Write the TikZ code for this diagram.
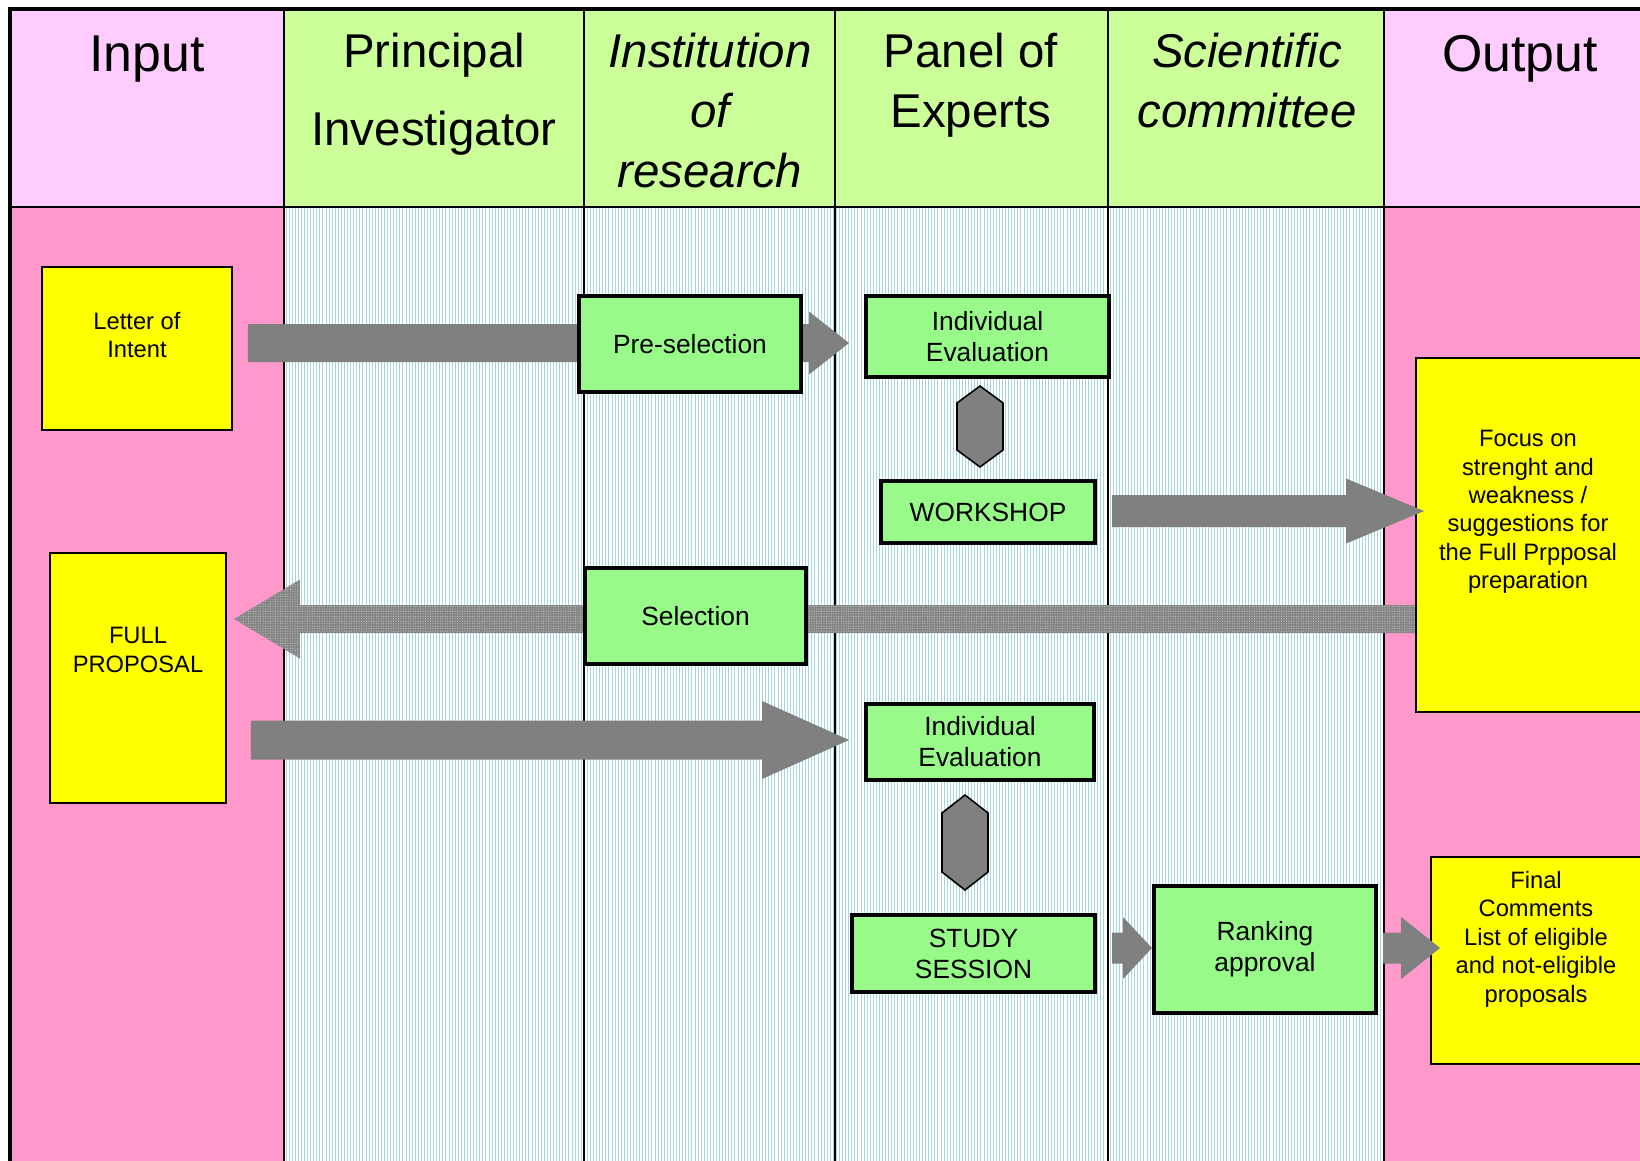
\documentclass[tikz,border=0pt]{standalone}
\usepackage{fontspec}
\setmainfont{Liberation Sans}
\usepackage{tikz}
\usetikzlibrary{calc,patterns.meta}

\definecolor{headpink}{RGB}{255,204,255}
\definecolor{headgreen}{RGB}{204,255,153}
\definecolor{bodypink}{RGB}{255,153,204}
\definecolor{hatchblue}{RGB}{168,214,222}
\definecolor{boxgreen}{RGB}{152,250,136}
\definecolor{noteyellow}{RGB}{255,255,0}
\definecolor{flowgray}{RGB}{128,128,128}
\definecolor{selgray}{RGB}{134,134,134}

\pgfdeclarelayer{lanes}
\pgfdeclarelayer{flows}
\pgfsetlayers{lanes,flows,main}

\tikzset{
  stepbox/.style={draw=black, line width=2.3pt, fill=boxgreen, align=center,
    inner sep=0pt, font=\fontsize{15}{17.6}\selectfont},
  notebox/.style={draw=black, line width=1.1pt, fill=noteyellow, inner sep=0pt},
  notetext/.style={align=center, inner sep=0pt, font=\fontsize{13.5}{16.2}\selectfont},
  colhead/.style={anchor=base, align=center, inner sep=0pt, font=\fontsize{27}{34}\selectfont},
  bighead/.style={colhead, font=\fontsize{29.5}{35}\selectfont},
  hexa/.style={draw=black, line width=0.9pt, fill=flowgray},
  flow/.style={fill=flowgray},
  selflow/.style={fill=selgray, postaction={pattern={Dots[radius=0.25pt,distance=1.4pt]},
    pattern color=white!70!selgray}},
}

% block arrow: tail, tip, shaft half width, head half width, head offset
\newcommand{\fatarrow}[6][flow]{%
  \fill[#1] ($(#2 |- #3)+(0,#4)$) -- ($(#3)+(#6,#4)$) -- ($(#3)+(#6,#5)$) -- (#3)
    -- ($(#3)+(#6,-#5)$) -- ($(#3)+(#6,-#4)$) -- ($(#2 |- #3)+(0,-#4)$) -- cycle;}

\begin{document}
\begin{tikzpicture}[x=0.02cm,y=-0.02cm]
  \useasboundingbox (0,0) rectangle (1640,1160);

  % lanes
  \begin{pgfonlayer}{lanes}
    \fill[headpink] (10,9) rectangle (284,207);
    \fill[headgreen] (284,9) rectangle (1384,207);
    \fill[headpink] (1384,9) rectangle (1670,207);
    \fill[bodypink] (10,207) rectangle (284,1170);
    \fill[white, postaction={pattern={Lines[angle=90,distance=1.75pt,line width=0.4pt]},
      pattern color=hatchblue}] (284,207) rectangle (1384,1170);
    \fill[bodypink] (1384,207) rectangle (1670,1170);
    \foreach \cx in {284,584,835,1108,1384}
      \draw[line width=1.1pt] (\cx,9) -- (\cx,1170);
    \draw[line width=1.1pt] (10,207) -- (1670,207);
    \draw[line width=2.5pt] (10,1170) -- (10,9) -- (1670,9);
  \end{pgfonlayer}

  % headers (base = last line)
  \node[bighead] (h-in) at (147,71) {Input};
  \node[colhead, font=\fontsize{27}{44}\selectfont] (h-pi) at (434,145) {Principal\\Investigator};
  \node[colhead, font=\fontsize{27}{34}\selectfont\itshape] (h-ir) at (710,187) {Institution\\of\\research};
  \node[colhead] (h-pe) at (971,127) {Panel of\\Experts};
  \node[colhead, font=\fontsize{27}{34}\selectfont\itshape] (h-sc) at (1247,127) {Scientific\\committee};
  \node[bighead] (h-out) at (1520,71) {Output};

  % input / output notes
  \node[notebox, minimum width=3.8cm, minimum height=3.26cm] (letter) at (137,348.5) {};
  \node[notetext] (letter-t) at (137,335) {Letter of\\Intent};
  \node[notebox, minimum width=3.52cm, minimum height=5cm] (full) at (138,678) {};
  \node[notetext] (full-t) at (138,650) {FULL\\PROPOSAL};
  \node[notebox, minimum width=4.68cm, minimum height=7.08cm] (focus) at (1533,535) {};
  \node[notetext] (focus-t) at (1528,512) {Focus on\\strenght and\\weakness /\\suggestions for\\the Full Prpposal\\preparation};
  \node[notebox, minimum width=4.38cm, minimum height=4.14cm] (final) at (1540.5,960.5) {};
  \node[notetext] (final-t) at (1536,939) {Final\\Comments\\List of eligible\\and not-eligible\\proposals};

  % steps
  \node[stepbox, minimum width=4.44cm, minimum height=1.92cm] (presel) at (690,344) {Pre-selection};
  \node[stepbox, minimum width=4.86cm, minimum height=1.62cm] (indiv1) at (987.5,336.5) {Individual\\Evaluation};
  \node[stepbox, minimum width=4.28cm, minimum height=1.24cm] (workshop) at (988,512) {WORKSHOP};
  \node[stepbox, minimum width=4.42cm, minimum height=1.92cm] (selection) at (695.5,616) {Selection};
  \node[stepbox, minimum width=4.56cm, minimum height=1.52cm] (indiv2) at (980,742) {Individual\\Evaluation};
  \node[stepbox, minimum width=4.86cm, minimum height=1.54cm] (study) at (973.5,953.5) {STUDY\\SESSION};
  \node[stepbox, minimum width=4.44cm, minimum height=2.54cm] (ranking) at (1265,949.5) {Ranking\\approval};

  \coordinate (hx1) at (980,426.5);
  \draw[hexa] ($(hx1)+(0,-40.5)$) -- ++(23,17) -- ++(0,47) -- ++(-23,17) -- ++(-23,-17) -- ++(0,-47) -- cycle;
  \coordinate (hx2) at (965,842.5);
  \draw[hexa] ($(hx2)+(0,-47.5)$) -- ++(23,18) -- ++(0,59) -- ++(-23,18) -- ++(-23,-18) -- ++(0,-59) -- cycle;

  % flows
  \coordinate (loi-out) at ($(letter.east)+(15,-5.5)$);
  \coordinate (ie1-in) at ($(loi-out -| indiv1.west)+(-15,0)$);
  \coordinate (ws-out) at ($(workshop.east)+(15,-1)$);
  \coordinate (fo-in) at ($(ws-out -| focus.west)+(9,0)$);
  \coordinate (sel-out) at ($(focus.west |- selection.center)+(0,3)$);
  \coordinate (fp-in) at ($(sel-out -| full.east)+(7,0)$);
  \coordinate (fp-out) at ($(full.east)+(24,62)$);
  \coordinate (ie2-in) at ($(fp-out -| indiv2.west)+(-15,0)$);
  \coordinate (ss-out) at ($(study.east)+(15,-5.5)$);
  \coordinate (rk-in) at (ss-out -| ranking.west);
  \coordinate (rk-out) at ($(ranking.east)+(5,-1.5)$);
  \coordinate (fc-in) at ($(rk-out -| final.west)+(10,0)$);
  \begin{pgfonlayer}{flows}
    \fatarrow{loi-out}{ie1-in}{19}{31.5}{-40}
    \fatarrow[selflow]{sel-out}{fp-in}{14}{39.5}{66}
    \fatarrow{fp-out}{ie2-in}{19.5}{39}{-87}
  \end{pgfonlayer}
  \fatarrow{ws-out}{fo-in}{16}{32.5}{-78}
  \fatarrow{ss-out}{rk-in}{15.5}{31}{-29}
  \fatarrow{rk-out}{fc-in}{15.5}{31}{-39}
\end{tikzpicture}
\end{document}
